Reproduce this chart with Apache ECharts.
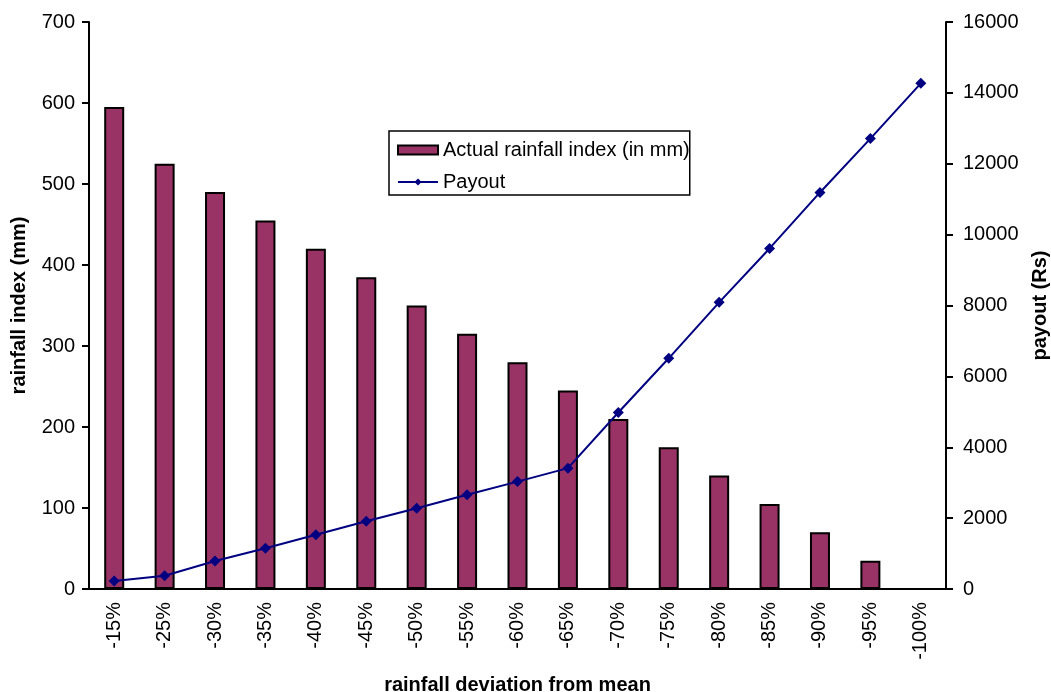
<!DOCTYPE html>
<html>
<head>
<meta charset="utf-8">
<script src="https://cdn.jsdelivr.net/npm/echarts@6/dist/echarts.min.js"></script>
<style>
  html, body { margin: 0; padding: 0; background: #fff; }
  #chart { width: 1051px; height: 692px; }
</style>
</head>
<body>
<div id="chart"></div>
<script>
// rainfall deviation categories
const categories = ["-15%", "-25%", "-30%", "-35%", "-40%", "-45%", "-50%", "-55%", "-60%",
  "-65%", "-70%", "-75%", "-80%", "-85%", "-90%", "-95%", "-100%"];
// actual rainfall index (mm)
const rainfall = [595, 525, 490, 455, 420, 385, 350, 315, 280, 245, 210, 175, 140, 105, 70, 35, 0];
// payout (Rs)
const payout = [225, 375, 790, 1150, 1530, 1910, 2280, 2660, 3030, 3410, 4980, 6510, 8090, 9610, 11190, 12710, 14270];

const font = "Liberation Sans, Arial, sans-serif";
const axisText = { color: "#000", fontSize: 20, fontFamily: font };
const nameText = { color: "#000", fontSize: 20, fontWeight: "bold", fontFamily: font };

const option = {
  animation: false,
  grid: { left: 89, right: 105, top: 22, bottom: 103, outerBoundsMode: "none", containLabel: false },
  legend: {
    orient: "vertical",
    left: 389,
    top: 131,
    padding: [9, 0, 3, 8],
    itemGap: 12,
    itemWidth: 40,
    itemHeight: 9,
    borderColor: "#000",
    borderWidth: 1.5,
    backgroundColor: "rgba(255,255,255,0)",
    textStyle: { color: "#000", fontSize: 20, fontFamily: font },
    data: [
      { name: "Actual rainfall index (in mm)", icon: "rect" },
      { name: "Payout" },
    ],
  },
  xAxis: {
    type: "category",
    data: categories,
    name: "rainfall deviation from mean",
    nameLocation: "middle",
    nameGap: 86,
    nameTextStyle: nameText,
    axisLine: { lineStyle: { color: "#000", width: 2 } },
    axisTick: { alignWithLabel: false, length: 7, lineStyle: { color: "#000", width: 2 } },
    axisLabel: Object.assign({ rotate: 90, margin: 13 }, axisText),
  },
  yAxis: [
    {
      type: "value",
      min: 0,
      max: 700,
      interval: 100,
      name: "rainfall index (mm)",
      nameLocation: "middle",
      nameGap: 60,
      nameRotate: 90,
      nameTextStyle: nameText,
      axisLine: { show: true, lineStyle: { color: "#000", width: 2 } },
      axisTick: { show: true, length: 7, lineStyle: { color: "#000", width: 2 } },
      axisLabel: Object.assign({ margin: 14 }, axisText),
      splitLine: { show: false },
    },
    {
      type: "value",
      min: 0,
      max: 16000,
      interval: 2000,
      name: "payout (Rs)",
      nameLocation: "middle",
      nameGap: 84,
      nameRotate: 90,
      nameTextStyle: nameText,
      axisLine: { show: true, lineStyle: { color: "#000", width: 2 } },
      axisTick: { show: true, length: 7, lineStyle: { color: "#000", width: 2 } },
      axisLabel: Object.assign({ margin: 17, formatter: (v) => String(v) }, axisText),
      splitLine: { show: false },
    },
  ],
  series: [
    {
      name: "Actual rainfall index (in mm)",
      type: "bar",
      yAxisIndex: 0,
      barWidth: 20,
      itemStyle: { color: "#993366", borderColor: "#000", borderWidth: 2 },
      data: rainfall,
    },
    {
      name: "Payout",
      type: "line",
      yAxisIndex: 1,
      symbol: "diamond",
      symbolSize: 11,
      lineStyle: { color: "#000080", width: 2 },
      itemStyle: { color: "#000080" },
      data: payout,
    },
  ],
};

const chart = echarts.init(document.getElementById("chart"), null, { renderer: "canvas" });
chart.setOption(option);
</script>
</body>
</html>
